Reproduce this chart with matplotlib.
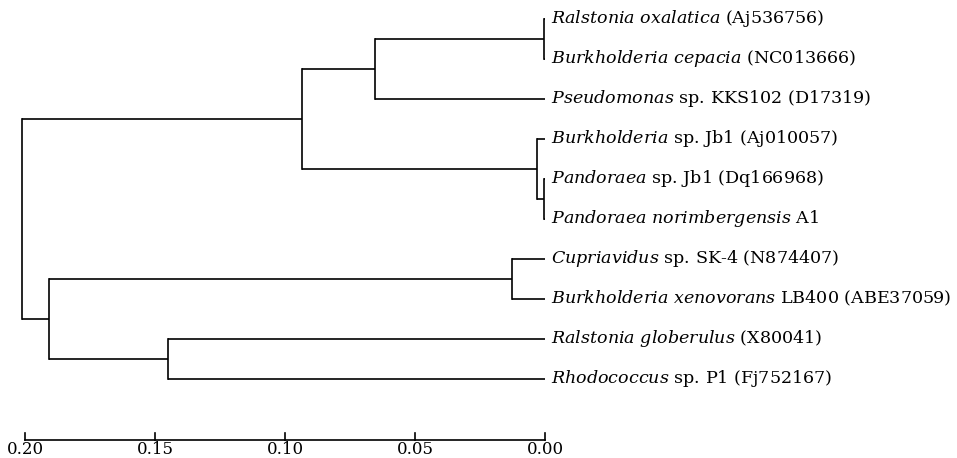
import matplotlib
matplotlib.use('Agg')
import matplotlib.pyplot as plt

plt.rcParams['mathtext.fontset'] = 'custom'
plt.rcParams['mathtext.rm'] = 'DejaVu Serif'
plt.rcParams['mathtext.it'] = 'DejaVu Serif:italic'
plt.rcParams['font.family'] = 'DejaVu Serif'

# leaves, top to bottom: italic part, plain part
nazwy_kursywa = ['Ralstonia oxalatica', 'Burkholderia cepacia', 'Pseudomonas',
                 'Burkholderia', 'Pandoraea', 'Pandoraea norimbergensis',
                 'Cupriavidus', 'Burkholderia xenovorans', 'Ralstonia globerulus',
                 'Rhodococcus']
nazwy_reszta = ['(Aj536756)', '(NC013666)', 'sp. KKS102 (D17319)',
                'sp. Jb1 (Aj010057)', 'sp. Jb1 (Dq166968)', 'A1',
                'sp. SK-4 (N874407)', 'LB400 (ABE37059)', '(X80041)',
                'sp. P1 (Fj752167)']

# merges: (child1, child2, height); leaves are 0..9, new nodes 10, 11, ...
polaczenia = [
    (0, 1, 0.0003),     # 10
    (10, 2, 0.0654),    # 11
    (4, 5, 0.0002),     # 12
    (3, 12, 0.0029),    # 13
    (11, 13, 0.0935),   # 14
    (6, 7, 0.0127),     # 15
    (8, 9, 0.1450),     # 16
    (15, 16, 0.1908),   # 17
    (14, 17, 0.2012),   # 18
]

skala_ticks = [0.20, 0.15, 0.10, 0.05, 0.00]
skala_labels = ['0.20', '0.15', '0.10', '0.05', '0.00']

fig = plt.figure(figsize=(9.57, 4.58), dpi=100)
ax = fig.add_axes([0, 0, 1, 1])
ax.set_xlim(545 / 2600, (545 - 957) / 2600)
ax.set_ylim((458 - 18.5) / 40, -18.5 / 40)
ax.axis('off')

n = len(nazwy_kursywa)
poz_y = {i: float(i) for i in range(n)}
wys = {i: 0.0 for i in range(n)}

lw = 1.2
for k, (a, b, h) in enumerate(polaczenia):
    node = n + k
    for c in (a, b):
        ax.plot([h, wys[c]], [poz_y[c], poz_y[c]], color='black', lw=lw, solid_capstyle='butt')
    ax.plot([h, h], [poz_y[a], poz_y[b]], color='black', lw=lw, solid_capstyle='projecting')
    poz_y[node] = (poz_y[a] + poz_y[b]) / 2
    wys[node] = h

for i in range(n):
    kursywa = nazwy_kursywa[i].replace(' ', r'\ ')
    ax.text(-0.0023, i, r'$\mathit{' + kursywa + '}$ ' + nazwy_reszta[i],
            fontsize=12.6, va='center', ha='left')

# scale bar
y_skala = (439.5 - 18.5) / 40
ax.plot([skala_ticks[0], skala_ticks[-1]], [y_skala, y_skala], color='black', lw=lw)
for t, lab in zip(skala_ticks, skala_labels):
    ax.plot([t, t], [y_skala, y_skala - 7 / 40], color='black', lw=lw)
    ax.text(t, (458 - 18.5) / 40, lab, fontsize=12, ha='center', va='bottom')

fig.savefig('out.png', dpi=100)
